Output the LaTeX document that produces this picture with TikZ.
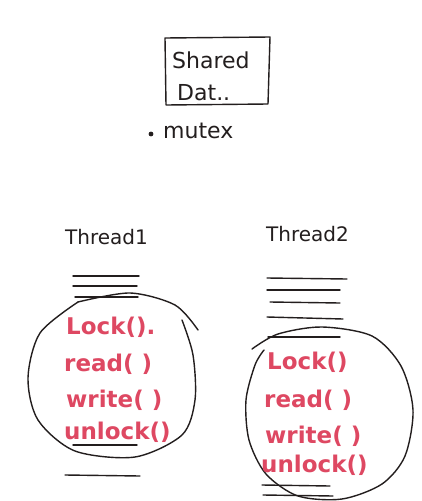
\documentclass[tikz,border=0pt]{standalone}
\usepackage{fontspec}
\setmainfont{DejaVu Sans}
\definecolor{ink}{RGB}{35,30,30}
\definecolor{redink}{RGB}{222,72,98}
\tikzset{
  pen/.style={draw=ink, line width=1.4pt, line cap=round, line join=round},
  blk/.style={text=ink, inner sep=0pt, anchor=west, font=\fontsize{22}{22}\selectfont},
  thr/.style={text=ink, inner sep=0pt, anchor=west, font=\fontsize{20}{20}\selectfont},
  rtxt/.style={text=redink, inner sep=0pt, anchor=west, font=\fontsize{23}{23}\selectfont\bfseries},
}
\begin{document}
\begin{tikzpicture}[x=1pt,y=-1pt]
\useasboundingbox[fill=white] (0,0) rectangle (422,501);
% shared data box
\draw[pen] (165,38) -- (270,37) -- (268,104) -- (166,105) -- cycle;
\node[blk] (shared) at (172,60) {Shared};
\node[blk] (dat) at (177,93) {Dat..};
\node[blk] (mutex) at (163,131) {mutex};
\fill[ink] (151,134) circle (2.4pt);
% thread labels
\node[thr] (t1) at (65,237) {Thread1};
\node[thr] (t2) at (266,234) {Thread2};
% thread 1 lines
\draw[pen] (73,276) -- (139,276);
\draw[pen] (73,286) -- (137,286);
\draw[pen] (75,297) -- (138,297);
\draw[pen] (73,445) -- (137,445);
\draw[pen] (65,475) -- (140,476);
% thread 1 circle
\draw[pen] plot[smooth] coordinates {(78,302) (130,293) (175,305) (198,330)};
\draw[pen] plot[smooth] coordinates {(182,320) (193,355) (195,400) (182,435) (135,457) (75,451) (38,420) (28,378) (40,333) (78,302)};
% thread 1 red text
\node[rtxt] (l1) at (66,327) {Lock().};
\node[rtxt] (r1) at (64,364) {read( )};
\node[rtxt] (w1) at (66,400) {write( )};
\node[rtxt] (u1) at (64,432) {unlock()};
% thread 2 lines
\draw[pen] (267,278) -- (347,279);
\draw[pen] (267,290) -- (340,290);
\draw[pen] (270,302) -- (340,303);
\draw[pen] (267,317) -- (343,319);
\draw[pen] (268,337) -- (340,337);
\draw[pen] (262,485) -- (330,486);
\draw[pen] (263,495) -- (333,496);
% thread 2 circle
\draw[pen] plot[smooth] coordinates {(252,349) (278,334) (322,327) (372,336) (401,366) (413,410) (405,456) (382,484) (342,499) (298,496) (266,474) (249,440) (246,400) (255,365) (264,350)};
% thread 2 red text
\node[rtxt] (l2) at (267,362) {Lock()};
\node[rtxt] (r2) at (264,400) {read( )};
\node[rtxt] (w2) at (265,436) {write( )};
\node[rtxt] (u2) at (261,465) {unlock()};
\end{tikzpicture}
\end{document}
